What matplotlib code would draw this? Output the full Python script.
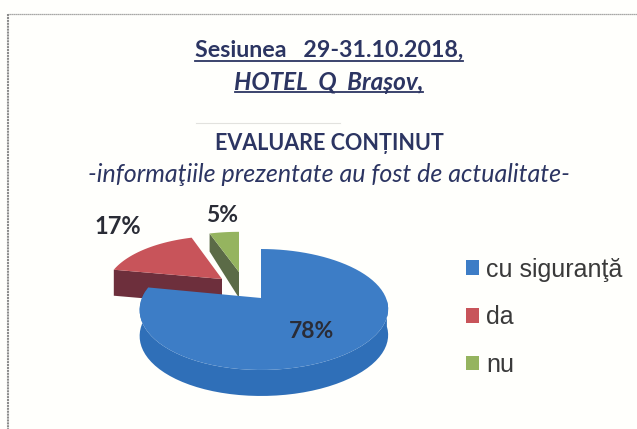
import numpy as np
import matplotlib
matplotlib.use('Agg')
import matplotlib.pyplot as plt
from matplotlib.patches import Polygon, Patch

# data
categories = ['cu siguranţă', 'da', 'nu']
values = [78, 17, 5]
title_lines = ['Sesiunea   29-31.10.2018,', 'HOTEL  Q  Brașov,']
heading = 'EVALUARE CONȚINUT'
subheading = '-informaţiile prezentate au fost de actualitate-'

top_colors = ['#3d7dc6', '#c8545a', '#95b45f']
side_colors = ['#2f6fb8', '#6d2f3c', '#5b6b47']

# slice tips in pixels, and width/height factors of each exploded slice
tips = [(261, 298), (222, 279), (239, 272)]
size_x = [1.0, 0.96, 0.93]
size_y = [1.0, 0.88, 0.82]
label_pos = [(311, 331), (118, 226), (222, 215)]
label_size = [16.5, 17, 16.5]
RX, RY, K, SKEW, DEPTH = 122, 58.3, 0.19, 3, 26

NAVY = '#2c3562'
FONT = 'Lato'


def project(theta, i):
    # flat pie seen in perspective, angle clockwise from 12 o'clock
    X, Y = np.sin(theta), np.cos(theta)
    s = 1 / (1 + K * Y)
    return (tips[i][0] + RX * X * s * size_x[i] + SKEW * (1 - Y * Y),
            tips[i][1] - RY * Y * s * size_y[i])


fig = plt.figure(figsize=(6.37, 4.29), dpi=100, facecolor='#fffffc')
ax = fig.add_axes([0, 0, 1, 1])
ax.set_xlim(0, 637)
ax.set_ylim(429, 0)
ax.axis('off')

edges = np.concatenate([[0], np.cumsum(values)]) / sum(values) * 2 * np.pi

# draw back slices first so that the blue one covers them
for i in [2, 1, 0]:
    a0, a1 = edges[i], edges[i + 1]
    tip = tips[i]
    t = np.linspace(a0, a1, 80)
    x, y = project(t, i)

    if i == 0:
        # outer wall of the big slice, only the part turned to the viewer
        vis = t[(t > np.pi / 2) & (t < a1)]
        wx, wy = project(vis, i)
        wall = np.r_[np.c_[wx, wy], np.c_[wx, wy + DEPTH][::-1]]
        ax.add_patch(Polygon(wall, closed=True, fc=side_colors[i], ec='none'))
    else:
        # cut face of the exploded slices
        ex, ey = project(a0, i)
        d = DEPTH - 8 if i == 2 else DEPTH
        face = [(ex, ey), tip, (tip[0], tip[1] + DEPTH), (ex, ey + d)]
        ax.add_patch(Polygon(face, closed=True, fc=side_colors[i], ec='none'))

    pts = np.r_[[tip], np.c_[x, y]]
    ax.add_patch(Polygon(pts, closed=True, fc=top_colors[i], ec='none'))

for v, p, fs in zip(values, label_pos, label_size):
    ax.text(p[0], p[1], f'{v}%', ha='center', va='center', fontsize=fs,
            fontfamily=FONT, fontweight='bold', color='#2a2c36')

# frame of the scanned page
ax.plot([637, 8], [14, 14], color='#8c8c8c', lw=0.9, ls=(0, (1, 0.6)))
ax.plot([8, 8], [14, 429], color='#8c8c8c', lw=1.5, ls=(0, (1, 0.4)))

ax.text(329, 50, title_lines[0], ha='center', va='center', fontsize=16.7,
        fontfamily=FONT, fontweight='bold', color=NAVY)
ax.text(329, 82, title_lines[1], ha='center', va='center', fontsize=17.5,
        fontfamily=FONT, fontweight='bold', style='italic', color=NAVY)
ax.plot([195, 463], [61, 61], color=NAVY, lw=1.3)
ax.plot([235, 423], [92, 92], color=NAVY, lw=1.3)

# faint scanner smudge
ax.plot([196, 340], [123, 123], color='#e2e2de', lw=0.8)

ax.text(329, 143, heading, ha='center', va='center', fontsize=15.5,
        fontfamily=FONT, fontweight='bold', color=NAVY)
ax.text(329, 174, subheading, ha='center', va='center', fontsize=18,
        fontfamily=FONT, style='italic', color=NAVY)

handles = [Patch(fc=c, ec='none') for c in top_colors]
leg = ax.legend(handles, categories, loc='upper left', bbox_to_anchor=(458 / 637, 1 - 250 / 429),
                frameon=False, handlelength=0.52, handleheight=0.52,
                handletextpad=0.3, labelspacing=0.95, borderaxespad=0, borderpad=0.3,
                labelcolor='#3a3a3a', prop={'family': 'Liberation Sans', 'size': 18})

fig.savefig('out.png', dpi=100, facecolor=fig.get_facecolor())
